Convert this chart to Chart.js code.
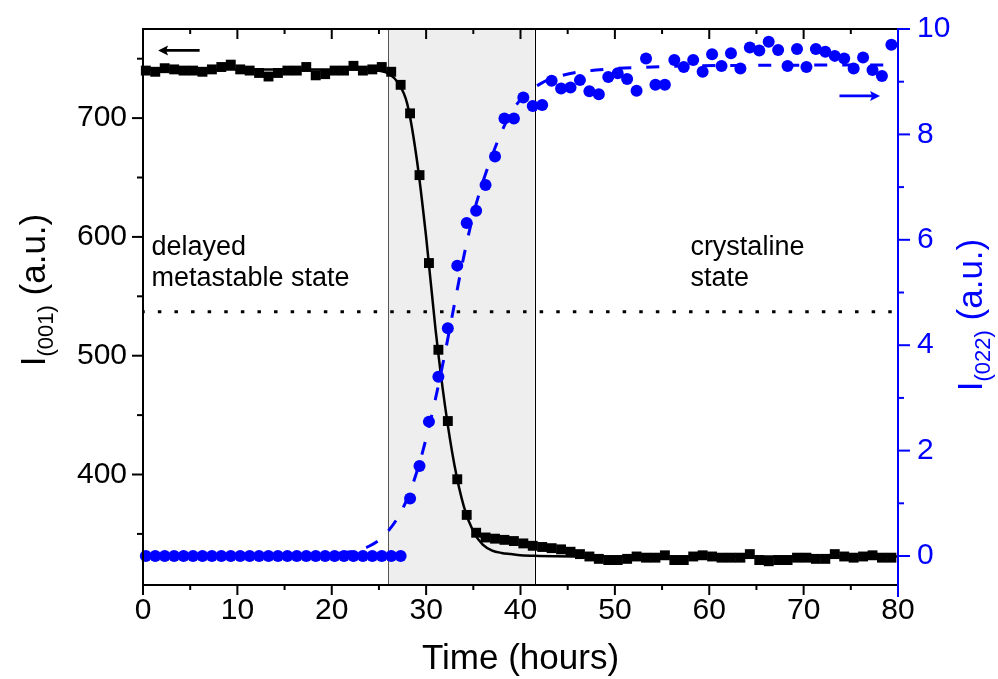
<!DOCTYPE html>
<html>
<head>
<meta charset="utf-8">
<script src="https://cdn.jsdelivr.net/npm/chart.js@4.4.0/dist/chart.umd.min.js"></script>
<style>
html,body{margin:0;padding:0;background:#ffffff;}
#wrap{width:998px;height:679px;position:relative;}
canvas{display:block;}
</style>
</head>
<body>
<div id="wrap"><canvas id="c" width="998" height="679"></canvas></div>
<script>
// ---------------- data ----------------
const timeHours = [0.3,1.3,2.3,3.3,4.3,5.3,6.3,7.3,8.3,9.3,10.3,11.3,12.3,13.3,14.3,15.3,16.3,17.3,18.3,19.3,
  20.3,21.3,22.3,23.3,24.3,25.3,26.3,27.3,28.3,29.3,30.3,31.3,32.3,33.3,34.3,35.3,36.3,37.3,38.3,39.3,
  40.3,41.3,42.3,43.3,44.3,45.3,46.3,47.3,48.3,49.3,50.3,51.3,52.3,53.3,54.3,55.3,56.3,57.3,58.3,59.3,
  60.3,61.3,62.3,63.3,64.3,65.3,66.3,67.3,68.3,69.3,70.3,71.3,72.3,73.3,74.3,75.3,76.3,77.3,78.3,79.3];

const intensity001 = [740,739,742,741,740,740,739,741,743,745,741,740,738,735,738,740,740,743,736,737,
  740,740,744,740,741,743,739,728,704,652,578,505,445,396,366,351,347,346,345,344,
  342,340,339,338,337,335,333,331,329,328,328,329,331,330,330,332,328,328,331,332,
  331,330,330,330,333,328,327,328,328,330,330,329,329,333,331,330,331,332,330,330];

const intensity022 = [0,0,0,0,0,0,0,0,0,0,0,0,0,0,0,0,0,0,0,0,
  0,0,0,0,0,0,0,0,1.09,1.71,2.55,3.40,4.32,5.51,6.32,6.55,7.04,7.58,8.30,8.30,
  8.70,8.54,8.56,9.02,8.87,8.89,9.03,8.82,8.76,9.09,9.16,9.05,8.83,9.44,8.94,8.94,9.41,9.28,9.41,9.19,
  9.52,9.30,9.54,9.25,9.65,9.59,9.76,9.60,9.30,9.62,9.28,9.62,9.57,9.49,9.44,9.25,9.46,9.22,9.11,9.70];

// fitted curves
const fit001Time   = [0,10,20,24,25,26,27,28,29,30,31,32,33,34,35,36,37,38,39,40,42,50,80];
const fit001Values = [741,741,741,741,740,737.5,730,712,666,600,522,458,408,373,352,341,336,334,333,332,331.5,331,331];

const fit022Time   = [0,15,20,22,23,24,25,26,27,28,29,30,31,32,33,34,35,36,37,38,39,40,41,42,43,44,46,48,50,54,58,65,80];
const fit022Values = [0,0.01,0.04,0.08,0.12,0.19,0.30,0.48,0.73,1.09,1.59,2.23,2.99,3.85,4.78,5.69,6.48,7.09,7.60,8.05,8.41,8.66,8.83,8.95,9.04,9.10,9.18,9.22,9.25,9.28,9.30,9.31,9.32];

const halfLevel001 = [537];          // dotted reference level (left axis)
const transitionWindow = [26, 41.5]; // shaded time window (hours)

const xTickValues = [0,10,20,30,40,50,60,70,80];
const xMinorValues = [5,15,25,35,45,55,65,75];
const leftTickValues = [400,500,600,700];
const leftMinorValues = [350,450,550,650,750];
const rightTickValues = [0,2,4,6,8,10];
const rightMinorValues = [1,3,5,7,9];

const xTitle = 'Time (hours)';
const leftTitle = ['I', '(001)', ' (a.u.)'];
const rightTitle = ['I', '(022)', ' (a.u.)'];
const leftNote = ['delayed', 'metastable state'];
const rightNote = ['crystaline', 'state'];

// ---------------- styling ----------------
const FONT = "'Liberation Sans', Arial, Helvetica, sans-serif";
const BLUE = 'rgb(0,0,255)';

const pts = (xs, ys) => xs.map((x, i) => ({x: x, y: ys[i]}));

function line(ctx, x1, y1, x2, y2) { ctx.beginPath(); ctx.moveTo(x1, y1); ctx.lineTo(x2, y2); ctx.stroke(); }

function arrow(ctx, x1, y, x2, color) {
  const dir = Math.sign(x2 - x1);
  ctx.save();
  ctx.strokeStyle = color; ctx.fillStyle = color; ctx.lineWidth = 2.7;
  line(ctx, x1, y, x2 - dir * 6, y);
  ctx.beginPath();
  ctx.moveTo(x2, y); ctx.lineTo(x2 - dir * 10, y - 5); ctx.lineTo(x2 - dir * 8, y); ctx.lineTo(x2 - dir * 10, y + 5);
  ctx.closePath(); ctx.fill();
  ctx.restore();
}

function rotatedTitle(ctx, parts, baseX, centerY, color) {
  const big = 'normal 35px ' + FONT, small = 'normal 22px ' + FONT;
  ctx.save();
  ctx.font = big; const w0 = ctx.measureText(parts[0]).width; const w2 = ctx.measureText(parts[2]).width;
  ctx.font = small; const w1 = ctx.measureText(parts[1]).width;
  const total = w0 + w1 + w2;
  ctx.translate(baseX, centerY);
  ctx.rotate(-Math.PI / 2);
  ctx.fillStyle = color; ctx.textBaseline = 'alphabetic'; ctx.textAlign = 'left';
  let x = -total / 2;
  ctx.font = big; ctx.fillText(parts[0], x, 0); x += w0;
  ctx.font = small; ctx.fillText(parts[1], x, 8); x += w1;
  ctx.font = big; ctx.fillText(parts[2], x, 0);
  ctx.restore();
}

const decorPlugin = {
  id: 'decor',
  beforeDatasetsDraw(chart) {
    const {ctx, chartArea: a, scales} = chart;
    const x1 = scales.x.getPixelForValue(transitionWindow[0]);
    const x2 = scales.x.getPixelForValue(transitionWindow[1]);
    ctx.save();
    ctx.fillStyle = '#eeeeee';
    ctx.fillRect(x1, a.top, x2 - x1, a.bottom - a.top);
    ctx.lineWidth = 1;
    ctx.strokeStyle = '#555555'; line(ctx, Math.round(x1) + 0.5, a.top, Math.round(x1) + 0.5, a.bottom);
    ctx.strokeStyle = '#000000'; line(ctx, Math.round(x2) + 0.5, a.top, Math.round(x2) + 0.5, a.bottom);
    ctx.restore();
  },
  afterDatasetsDraw(chart) {
    const {ctx, chartArea: a, scales} = chart;
    const sx = scales.x, sy = scales.y, s2 = scales.y2;
    ctx.save();
    ctx.lineCap = 'butt';
    ctx.strokeStyle = '#000'; ctx.lineWidth = 2;
    line(ctx, a.left, a.top, a.left, a.bottom + 1);
    line(ctx, a.left - 1, a.bottom, a.right, a.bottom);
    line(ctx, a.left - 1, a.top, a.right, a.top);
    xTickValues.forEach(v => { const p = sx.getPixelForValue(v); line(ctx, p, a.bottom, p, a.bottom + 10); line(ctx, p, a.top, p, a.top + 10); });
    xMinorValues.forEach(v => { const p = sx.getPixelForValue(v); line(ctx, p, a.bottom, p, a.bottom + 5); line(ctx, p, a.top, p, a.top + 5); });
    leftTickValues.forEach(v => { const p = sy.getPixelForValue(v); line(ctx, a.left - 11, p, a.left, p); });
    leftMinorValues.forEach(v => { const p = sy.getPixelForValue(v); line(ctx, a.left - 6, p, a.left, p); });
    ctx.strokeStyle = BLUE; ctx.lineWidth = 2;
    line(ctx, a.right, a.top - 1, a.right, a.bottom + 12);
    rightTickValues.forEach(v => { const p = s2.getPixelForValue(v); line(ctx, a.right, p, a.right + 12, p); });
    rightMinorValues.forEach(v => { const p = s2.getPixelForValue(v); line(ctx, a.right, p, a.right + 6, p); });

    arrow(ctx, sx.getPixelForValue(6.0), sy.getPixelForValue(757), sx.getPixelForValue(1.6), '#000');
    arrow(ctx, sx.getPixelForValue(73.8), s2.getPixelForValue(8.73), sx.getPixelForValue(78.1), BLUE);

    ctx.font = 'normal 27px ' + FONT; ctx.fillStyle = '#000'; ctx.textAlign = 'left'; ctx.textBaseline = 'alphabetic';
    ctx.fillText(leftNote[0], sx.getPixelForValue(0.9), sy.getPixelForValue(585));
    ctx.fillText(leftNote[1], sx.getPixelForValue(0.9), sy.getPixelForValue(559));
    ctx.fillText(rightNote[0], sx.getPixelForValue(58.0), sy.getPixelForValue(585));
    ctx.fillText(rightNote[1], sx.getPixelForValue(58.0), sy.getPixelForValue(559));

    ctx.font = 'normal 35px ' + FONT; ctx.textAlign = 'center';
    ctx.fillText(xTitle, (a.left + a.right) / 2, 669);
    ctx.restore();
    rotatedTitle(ctx, leftTitle, 45, 290, '#000');
    rotatedTitle(ctx, rightTitle, 982, 315, BLUE);
  }
};

const tickFont = {family: FONT, size: 30};
const noPad = s => { s.paddingTop = 0; s.paddingBottom = 0; s.paddingLeft = 0; s.paddingRight = 0; };

new Chart(document.getElementById('c').getContext('2d'), {
  type: 'scatter',
  data: {
    datasets: [
      { label: 'I(022)', data: pts(timeHours, intensity022), yAxisID: 'y2', pointStyle: 'circle', pointRadius: 6,
        pointBackgroundColor: BLUE, pointBorderWidth: 0, backgroundColor: BLUE, borderColor: BLUE, showLine: false, clip: false, order: 1 },
      { label: 'I(022) fit', type: 'line', data: pts(fit022Time, fit022Values), yAxisID: 'y2', borderColor: BLUE, borderWidth: 3,
        borderDash: [13, 15], pointRadius: 0, fill: false, cubicInterpolationMode: 'monotone', order: 2 },
      { label: 'I(001)', data: pts(timeHours, intensity001), yAxisID: 'y', pointStyle: 'rect', pointRadius: 7,
        pointBackgroundColor: '#000', pointBorderWidth: 0, backgroundColor: '#000', borderColor: '#000', showLine: false, clip: false, order: 3 },
      { label: 'I(001) fit', type: 'line', data: pts(fit001Time, fit001Values), yAxisID: 'y', borderColor: '#000', borderWidth: 2.5,
        pointRadius: 0, fill: false, cubicInterpolationMode: 'monotone', order: 4 },
      { label: 'half level', type: 'line', data: [{x: 0, y: halfLevel001[0]}, {x: 80, y: halfLevel001[0]}], yAxisID: 'y',
        borderColor: '#000', borderWidth: 3, borderDash: [3.5, 13.1], borderDashOffset: 1.75, pointRadius: 0, fill: false, order: 5 }
    ]
  },
  options: {
    responsive: false,
    devicePixelRatio: 1,
    animation: false,
    events: [],
    layout: {padding: {top: 29, left: 0, right: 0, bottom: 0}},
    plugins: {legend: {display: false}, tooltip: {enabled: false}},
    scales: {
      x: {
        type: 'linear', position: 'bottom', min: 0, max: 80,
        afterBuildTicks: s => { s.ticks = xTickValues.map(v => ({value: v})); },
        afterFit: s => { s.height = 94; noPad(s); },
        grid: {display: false, drawTicks: false}, border: {display: false},
        ticks: {color: '#000', font: tickFont, padding: 8, maxRotation: 0, autoSkip: false}
      },
      y: {
        type: 'linear', position: 'left', min: 307, max: 775,
        afterBuildTicks: s => { s.ticks = leftTickValues.map(v => ({value: v})); },
        afterFit: s => { s.width = 143; noPad(s); },
        grid: {display: false, drawTicks: false}, border: {display: false},
        ticks: {color: '#000', font: tickFont, padding: 16, autoSkip: false}
      },
      y2: {
        type: 'linear', position: 'right', min: -0.55, max: 10,
        afterBuildTicks: s => { s.ticks = rightTickValues.map(v => ({value: v})); },
        afterFit: s => { s.width = 100; noPad(s); },
        grid: {display: false, drawTicks: false}, border: {display: false},
        ticks: {color: BLUE, font: tickFont, padding: 19, autoSkip: false}
      }
    }
  },
  plugins: [decorPlugin]
});
</script>
</body>
</html>
